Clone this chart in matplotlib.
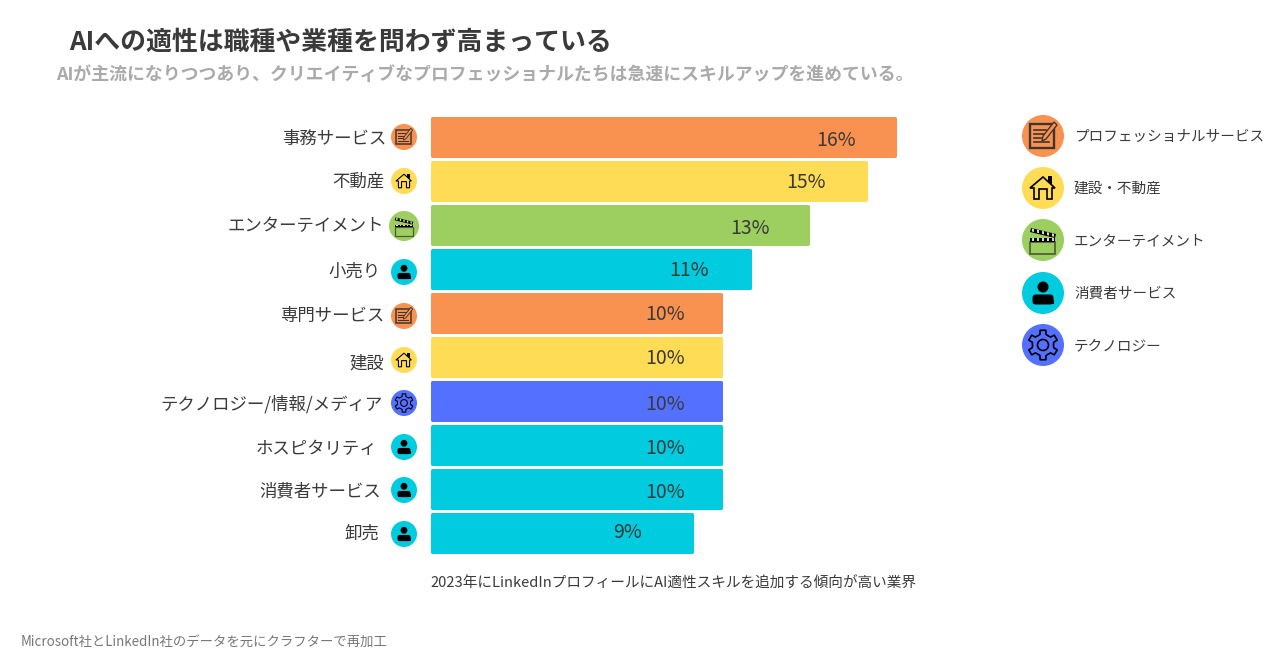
import math
import matplotlib
matplotlib.use('Agg')
import matplotlib.pyplot as plt
from matplotlib.patches import Circle, Polygon, Rectangle, FancyBboxPatch

plt.rcParams['font.family'] = ['Noto Sans CJK JP', 'DejaVu Sans']

#Chart data
industries = ['事務サービス', '不動産', 'エンターテイメント', '小売り', '専門サービス', '建設',
              'テクノロジー/情報/メディア', 'ホスピタリティ', '消費者サービス', '卸売']
values = [16, 15, 13, 11, 10, 10, 10, 10, 10, 9]
groups = ['pro', 'home', 'ent', 'cons', 'pro', 'home', 'tech', 'cons', 'cons', 'cons']
legend_labels = ['プロフェッショナルサービス', '建設・不動産', 'エンターテイメント', '消費者サービス', 'テクノロジー']
legend_groups = ['pro', 'home', 'ent', 'cons', 'tech']

bar_colors = {'pro': '#f99150', 'home': '#ffdc55', 'ent': '#9ccf60', 'cons': '#00cbdf', 'tech': '#5470ff'}

#Small per-row offsets seen in the original (pixels)
label_right = [386, 384, 384, 381, 384, 384, 383, 377, 381, 379]
label_y = [139, 182, 226, 272, 316, 363, 404, 449, 491, 534]
value_x = [836, 806, 750, 689, 665, 665, 665, 665, 665, 628]
value_y = [140, 183, 228, 271, 314, 358, 404, 449, 493, 533]
icon_y = [137, 181, 226, 272, 316, 360, 403, 447, 490, 534]
icon_r = [13, 13, 15, 13, 13, 13, 13, 13, 13, 13]

TEXT = '#3a3a3a'


def draw_icon(ax, cx, cy, r, kind):
    #Icons are drawn in a unit box around the centre, s is pixels per unit
    s = r / 21.0
    lw = 1.1 * s + 0.1
    ax.add_patch(Circle((cx, cy), r, fc=bar_colors[kind], ec='none', zorder=3))

    def P(x, y):
        return (cx + x * s, cy + y * s)

    if kind == 'pro':
        dark = '#3d3530'
        ax.add_patch(Polygon([P(-13, -12), P(11, -12), P(11, 12), P(-13, 12)], closed=True, fc='none', ec=dark, lw=lw * 1.4, zorder=4))
        for yy, xe in zip([-6, -2, 2, 6], [3, 1, -2, 6]):
            ax.plot(*zip(P(-9, yy), P(xe, yy)), color=dark, lw=lw, zorder=4)
        ax.add_patch(Polygon([P(-1, 5), P(0, 0), P(11, -14), P(14, -11), P(3, 3)], closed=True, fc=bar_colors[kind], ec=dark, lw=lw * 0.8, zorder=5))
    elif kind == 'home':
        ax.add_patch(Polygon([P(-13, 0), P(0, -11), P(12, 0), P(9, 0), P(9, 11), P(4, 11), P(4, 1), P(-4, 1), P(-4, 11), P(-9, 11), P(-9, 0)],
                             closed=True, fc='none', ec='black', lw=lw, joinstyle='miter', zorder=4))
        ax.add_patch(Polygon([P(5, -7), P(5, -12), P(9, -12), P(9, -3)], closed=True, fc='black', ec='none', zorder=4))
    elif kind == 'ent':
        ax.add_patch(Rectangle(P(-13, 2), 25 * s, 12 * s, fc='none', ec='#4a5a35', lw=lw, zorder=4))
        ax.add_patch(Rectangle(P(-13, -2), 25 * s, 4 * s, fc='black', ec='none', zorder=4))
        ax.add_patch(Polygon([P(-12, -12), P(13, -6), P(12, -2), P(-13, -8)], closed=True, fc='black', ec='none', zorder=4))
        for k in range(5):
            x0 = -11 + k * 5
            ax.add_patch(Rectangle(P(x0, -2), 2 * s, 2.5 * s, fc='#d8d8d0', ec='none', zorder=5))
            ax.add_patch(Polygon([P(x0, -11.5 + k * 1.2), P(x0 + 2, -11 + k * 1.2), P(x0 + 2, -8 + k * 1.2), P(x0, -8.5 + k * 1.2)],
                                 closed=True, fc='#d8d8d0', ec='none', zorder=5))
    elif kind == 'cons':
        ax.add_patch(Circle(P(0, -6), 5.5 * s, fc='black', ec='none', zorder=4))
        ax.add_patch(FancyBboxPatch(P(-7, 5), 14 * s, 3 * s, boxstyle='round,pad=%f,rounding_size=%f' % (3.5 * s, 3.5 * s),
                                    fc='black', ec='none', zorder=4))
        ax.add_patch(Rectangle(P(-10.5, 7), 21 * s, 4 * s, fc='black', ec='none', zorder=4))
    elif kind == 'tech':
        ax.add_patch(Circle((cx, cy), 5.5 * s, fc='none', ec='black', lw=lw, zorder=4))
        #gear outline, eight corners per tooth side
        pts = []
        for k in range(6):
            ang = math.radians(30 + k * 60)
            for da, rad in [(-30, 10.5), (-16, 11), (-11, 15), (11, 15), (16, 11)]:
                a = ang + math.radians(da)
                pts.append(P(rad * math.cos(a), rad * math.sin(a)))
        ax.add_patch(Polygon(pts, closed=True, fc='none', ec='black', lw=lw, joinstyle='round', zorder=4))


fig = plt.figure(figsize=(12.8, 6.7), dpi=100)
W, H = 1280.0, 670.0

#Bar axes: 0% to 16%, pulled in by half the rounded edge width
ax = fig.add_axes([431.5 / W, 1 - 554.5 / H, (895 - 431.5) / W, (554.5 - 115) / H])
ypos = list(range(len(industries)))
ax.barh(ypos, values, height=0.865, color=[bar_colors[g] for g in groups],
        edgecolor=[bar_colors[g] for g in groups], linewidth=2.16, joinstyle='round', clip_on=False)
ax.set_xlim(0, 16)
ax.set_ylim(len(industries) - 0.5, -0.5)
ax.axis('off')

#Pixel overlay for text and icons
ov = fig.add_axes([0, 0, 1, 1], facecolor='none')
ov.set_xlim(0, W)
ov.set_ylim(H, 0)
ov.axis('off')

ov.text(69, 42, 'AIへの適性は職種や業種を問わず高まっている', fontsize=18.65, fontweight='bold', color=TEXT, va='center', ha='left')
ov.text(56.5, 75, 'AIが主流になりつつあり、クリエイティブなプロフェッショナルたちは急速にスキルアップを進めている。',
        fontsize=12.87, fontweight='bold', color='#aaaaaa', va='center', ha='left')

for i, name in enumerate(industries):
    ov.text(label_right[i], label_y[i], name, fontsize=12.55, color=TEXT, va='center', ha='right')
    ov.text(value_x[i], value_y[i], '%d%%' % values[i], fontsize=14, color=TEXT, va='center', ha='center')
    draw_icon(ov, 404, icon_y[i], icon_r[i], groups[i])

legend_y = [136, 188, 240, 293, 345]
for name, g, y in zip(legend_labels, legend_groups, legend_y):
    draw_icon(ov, 1043, y, 21, g)
    ov.text(1074, y + 1, name, fontsize=10.5, color=TEXT, va='center', ha='left')

ov.text(430.5, 584, '2023年にLinkedInプロフィールにAI適性スキルを追加する傾向が高い業界', fontsize=10.57, color=TEXT, va='center', ha='left')
ov.text(21, 642, 'Microsoft社とLinkedIn社のデータを元にクラフターで再加工', fontsize=9.62, color='#777777', va='center', ha='left')

fig.savefig('out.png', dpi=100)
